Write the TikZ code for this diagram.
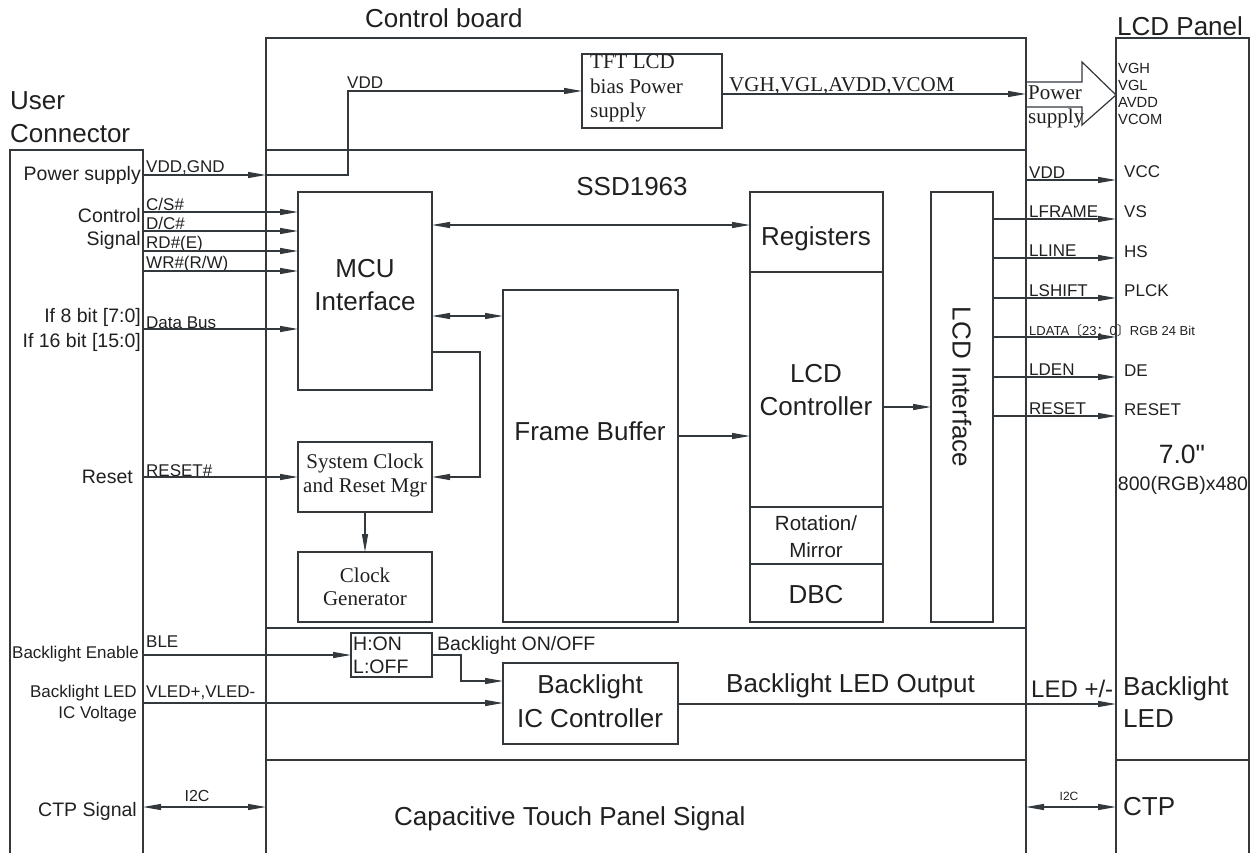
\documentclass[tikz,border=0pt]{standalone}
\usepackage{fontspec}
\setmainfont{Liberation Sans}
\newfontfamily\serifrm{Liberation Serif}
\newfontfamily\plainsans{Liberation Sans}[Ligatures=TeXOff]
\newfontfamily\cjk{Noto Sans CJK SC}
\usetikzlibrary{arrows.meta,positioning,fit}

\definecolor{linecol}{HTML}{33383D}
\definecolor{txtcol}{HTML}{202020}
\newcommand\fsbig{\fontsize{26}{33}\selectfont}
\newcommand\fsmid{\fontsize{19.5}{22.5}\selectfont}
\newcommand\fssmall{\fontsize{17}{21}\selectfont}
\newcommand\fsser{\serifrm\fontsize{21}{24}\selectfont}

\begin{document}
\begin{tikzpicture}[
    x=1pt, y=-1pt,
    >={Triangle[length=18pt,width=6pt]},
    box/.style={rectangle, draw=linecol, line width=1.2pt, inner sep=0pt, outer sep=0pt},
    frame/.style={rectangle, draw=linecol, line width=1.4pt, inner sep=0pt, outer sep=0pt},
    lbl/.style={inner sep=0pt, text=txtcol},
    sig/.style={draw=linecol, line width=1.2pt, ->},
    bus/.style={draw=linecol, line width=1.2pt, <->}
]
    \useasboundingbox (0,0) rectangle (1257,853);
    \clip (0,0) rectangle (1257,853);

    % outer frames
    \node[frame, fit={(10,150) (143,870)}] (ucon) {};
    \node[frame, fit={(266,38) (1026,870)}] (board) {};
    \node[frame, fit={(1116,38) (1249,870)}] (panel) {};
    \draw[linecol, line width=2pt] (board.west |- 0,150) -- (board.east |- 0,150);
    \draw[linecol, line width=1.2pt] (board.west |- 0,628) -- (board.east |- 0,628);
    \draw[linecol, line width=1.2pt] (board.west |- 0,760) -- (board.east |- 0,760);
    \draw[linecol, line width=1.2pt] (panel.west |- 0,760) -- (panel.east |- 0,760);

    % (multi-line nodes: base = last line)
    \node[lbl, font=\fsbig, align=left, anchor=base west] (t-ucon) at (10,143) {User\\Connector};
    \node[lbl, font=\fsbig, anchor=base west] (t-board) at (365,28) {Control board};
    \node[lbl, font=\fsbig, anchor=base west] (t-panel) at (1117,36) {LCD Panel};

    % blocks
    \node[box, fit={(582,54) (722,128)}] (tft) {};
    \node[box, fit={(298,192) (432,390)}] (mcu) {};
    \node[box, fit={(298,442) (432,512)}] (sysclk) {};
    \node[box, fit={(298,552) (432,622)}] (clkgen) {};
    \node[box, fit={(503,290) (678,622)}] (fbuf) {};
    \node[box, fit={(750,192) (883,272)}] (regs) {};
    \node[box, fit={(750,272) (883,507)}] (lcdc) {};
    \node[box, fit={(750,507) (883,564)}] (rotm) {};
    \node[box, fit={(750,564) (883,622)}] (dbc) {};
    \node[box, fit={(931,192) (993,622)}] (lcdif) {};
    \node[box, fit={(351,633) (432,677)}] (hon) {};
    \node[box, fit={(503,663) (678,744)}] (blic) {};

    \node[lbl, font=\serifrm\fontsize{21}{24.5}\selectfont, align=left, anchor=base west] (t-tft) at (590,118) {TFT LCD\\bias Power\\supply};
    \node[lbl, font=\fsbig, anchor=base] (t-ssd) at (632,195) {SSD1963};
    \node[lbl, font=\fsbig, align=center, anchor=base] (t-mcu) at (365,310) {MCU\\Interface};
    \node[lbl, font=\fsser, align=center, anchor=base] (t-sysclk) at (365,492) {System Clock\\and Reset Mgr};
    \node[lbl, font=\serifrm\fontsize{21}{23}\selectfont, align=center, anchor=base] (t-clkgen) at (365,605) {Clock\\Generator};
    \node[lbl, font=\fsbig, anchor=base] (t-fbuf) at (590,440) {Frame Buffer};
    \node[lbl, font=\fsbig, anchor=base] (t-regs) at (816,245) {Registers};
    \node[lbl, font=\fsbig, align=center, anchor=base] (t-lcdc) at (816,415) {LCD\\Controller};
    \node[lbl, font=\fontsize{20.5}{27}\selectfont, align=center, anchor=base] (t-rotm) at (816,557) {Rotation/\\Mirror};
    \node[lbl, font=\fsbig, anchor=base] (t-dbc) at (816,603) {DBC};
    \node[lbl, font=\fsbig, rotate=-90] (t-lcdif) at ([yshift=20pt]lcdif.center) {LCD Interface};
    \node[lbl, font=\fsmid, align=left, anchor=base west] (t-hon) at (353,673) {H:ON\\L:OFF};
    \node[lbl, font=\fontsize{26}{34}\selectfont, align=center, anchor=base] (t-blic) at (590,727) {Backlight\\IC Controller};
    \node[lbl, font=\fsbig, anchor=base west] (t-ctp) at (394,825) {Capacitive Touch Panel Signal};

    % user connector side
    \node[lbl, font=\fsmid, anchor=base east] (u-pwr) at (141,180) {Power supply};
    \node[lbl, font=\fsmid, align=right, anchor=base east] (u-ctrl) at (141,245) {Control\\Signal};
    \node[lbl, font=\fontsize{19.5}{25}\selectfont, align=right, anchor=base east] (u-bus) at (141,347) {If 8 bit [7:0]\\If 16 bit [15:0]};
    \node[lbl, font=\fsmid, anchor=base east] (u-rst) at (133,483) {Reset};
    \node[lbl, font=\fssmall, anchor=base east] (u-ble) at (139,658) {Backlight Enable};
    \node[lbl, font=\fssmall, align=right, anchor=base east] (u-vled) at (137,718) {Backlight LED\\IC Voltage};
    \node[lbl, font=\fsmid, anchor=base east] (u-ctp) at (137,816) {CTP Signal};

    \node[lbl, font=\fssmall, anchor=base west] (s-vdd) at (146,172) {VDD,GND};
    \node[lbl, font=\fssmall, anchor=base west] (s-cs) at (146,210) {C/S\#};
    \node[lbl, font=\fssmall, anchor=base west] (s-dc) at (146,229.5) {D/C\#};
    \node[lbl, font=\fssmall, anchor=base west] (s-rd) at (146,248.5) {RD\#(E)};
    \node[lbl, font=\fssmall, anchor=base west] (s-wr) at (146,268) {WR\#(R/W)};
    \node[lbl, font=\fssmall, anchor=base west] (s-bus) at (146,328) {Data Bus};
    \node[lbl, font=\fssmall, anchor=base west] (s-rst) at (146,476) {RESET\#};
    \node[lbl, font=\fssmall, anchor=base west] (s-ble) at (146,647) {BLE};
    \node[lbl, font=\fssmall, anchor=base west] (s-vled) at (146,697) {VLED+,VLED-};
    \node[lbl, font=\fontsize{16}{16}\selectfont, anchor=base] (s-i2c) at (197,801) {I2C};

    % power path
    \coordinate (vddbend) at (348,91);
    \node[lbl, font=\fssmall, anchor=base west] (s-vddin) at (347,89) {VDD};
    \node[lbl, font=\fsser, anchor=base west] (s-bias) at (729,92) {VGH,VGL,AVDD,VCOM};
    \draw[sig] (ucon.east |- 0,175) -- (board.west |- 0,175);
    \draw[sig] (board.west |- 0,175) -| (vddbend) -- (tft.west |- vddbend);
    \draw[sig] (tft.east |- 0,94) -- (board.east |- 0,94);
    \draw[linecol, line width=1.2pt] (board.east |- 0,82) -- (1082,82) -- (1082,62) -- (panel.west |- 0,95)
        -- (1082,125) -- (1082,107) -- (board.east |- 0,107);
    \node[lbl, font=\fontsize{21}{23.5}\selectfont\serifrm, align=left, anchor=base west] (s-psup) at (1028,123.5) {Power\\supply};
    \node[lbl, font=\fontsize{14.7}{17.3}\selectfont, align=left, anchor=base west] (p-bias) at (1118,125) {VGH\\VGL\\AVDD\\VCOM};

    % MCU bus inputs
    \draw[sig] (ucon.east |- 0,212) -- (mcu.west |- 0,212);
    \draw[sig] (ucon.east |- 0,231) -- (mcu.west |- 0,231);
    \draw[sig] (ucon.east |- 0,251) -- (mcu.west |- 0,251);
    \draw[sig] (ucon.east |- 0,271) -- (mcu.west |- 0,271);
    \draw[sig] (ucon.east |- 0,329) -- (mcu.west |- 0,329);
    \draw[sig] (ucon.east |- 0,477) -- (sysclk.west);

    % internal paths
    \draw[bus] (mcu.east |- 0,225) -- (regs.west |- 0,225);
    \draw[bus] (mcu.east |- 0,316) -- (fbuf.west |- 0,316);
    \draw[sig] (mcu.east |- 0,352) -| ([xshift=48pt]sysclk.east) -- (sysclk.east);
    \draw[sig] (sysclk.south) -- (clkgen.north);
    \draw[sig] (fbuf.east |- 0,436) -- (lcdc.west |- 0,436);
    \draw[sig] (lcdc.east |- 0,407) -- (lcdif.west |- 0,407);

    % LCD outputs
    \draw[sig] (board.east |- 0,180) -- (panel.west |- 0,180);
    \draw[sig] (lcdif.east |- 0,219) -- (panel.west |- 0,219);
    \draw[sig] (lcdif.east |- 0,258) -- (panel.west |- 0,258);
    \draw[sig] (lcdif.east |- 0,298) -- (panel.west |- 0,298);
    \draw[sig] (lcdif.east |- 0,337) -- (panel.west |- 0,337);
    \draw[sig] (lcdif.east |- 0,377) -- (panel.west |- 0,377);
    \draw[sig] (lcdif.east |- 0,416) -- (panel.west |- 0,416);

    \node[lbl, font=\fssmall, anchor=base west] (o-vdd) at (1029,178.5) {VDD};
    \node[lbl, font=\fssmall, anchor=base west] (o-lframe) at (1029,217.5) {LFRAME};
    \node[lbl, font=\fssmall, anchor=base west] (o-lline) at (1029,256.5) {LLINE};
    \node[lbl, font=\fssmall, anchor=base west] (o-lshift) at (1029,296.5) {LSHIFT};
    \node[lbl, font=\fontsize{13}{13}\selectfont, anchor=base west] (o-ldata) at (1029,335.5) {LDATA{\cjk 〔}23{\cjk ：}0{\cjk 〕}RGB 24 Bit};
    \node[lbl, font=\fssmall, anchor=base west] (o-lden) at (1029,375.5) {LDEN};
    \node[lbl, font=\fssmall, anchor=base west] (o-rst) at (1029,414.5) {RESET};

    \node[lbl, font=\fssmall, anchor=base west] (p-vcc) at (1124,178) {VCC};
    \node[lbl, font=\fssmall, anchor=base west] (p-vs) at (1124,217) {VS};
    \node[lbl, font=\fssmall, anchor=base west] (p-hs) at (1124,257) {HS};
    \node[lbl, font=\fssmall, anchor=base west] (p-plck) at (1124,296) {PLCK};
    \node[lbl, font=\fssmall, anchor=base west] (p-de) at (1124,376) {DE};
    \node[lbl, font=\fssmall, anchor=base west] (p-rst) at (1124,415) {RESET};
    \node[lbl, font=\plainsans\fontsize{26.5}{26.5}\selectfont, anchor=base] (p-size) at (1182,463) {7.0"};
    \node[lbl, font=\fsmid, anchor=base] (p-res) at (1183,490) {800(RGB)x480};

    % backlight
    \node[lbl, font=\fsmid, anchor=base west] (s-onoff) at (437,650) {Backlight ON/OFF};
    \draw[sig] (ucon.east |- 0,655) -- (hon.west);
    \draw[sig] (hon.east) -- ++(29,0) |- (blic.west |- 0,681);
    \draw[sig] (ucon.east |- 0,703) -- (blic.west |- 0,703);
    \draw[sig] (blic.east |- 0,704) -- (panel.west |- 0,704);
    \node[lbl, font=\fsbig, anchor=base west] (s-blout) at (726,692) {Backlight LED Output};
    \node[lbl, font=\fontsize{24}{24}\selectfont, anchor=base west] (s-led) at (1031,697) {LED +/-};
    \node[lbl, font=\fontsize{26}{32}\selectfont, align=left, anchor=base west] (p-bl) at (1123,727) {Backlight\\LED};

    % touch panel
    \draw[bus] (ucon.east |- 0,807) -- (board.west |- 0,807);
    \draw[bus] (board.east |- 0,807) -- (panel.west |- 0,807);
    \node[lbl, font=\fontsize{12}{12}\selectfont, anchor=base] (s-i2cr) at (1069,800) {I2C};
    \node[lbl, font=\fsbig, anchor=base west] (p-ctp) at (1123,815) {CTP};
\end{tikzpicture}
\end{document}
